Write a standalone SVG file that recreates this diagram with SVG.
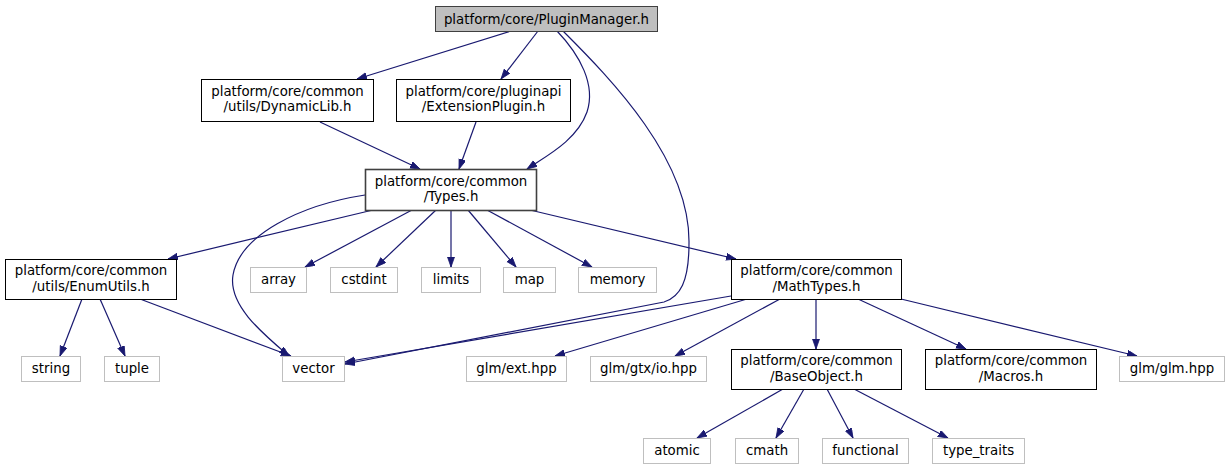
<svg xmlns="http://www.w3.org/2000/svg" width="1229" height="469" viewBox="0 0 1229 469">
<style>
text{font-family:"DejaVu Sans","Liberation Sans",sans-serif;font-size:13.33px;fill:#000;text-anchor:middle}
.n rect{fill:#fff;stroke:#000;stroke-width:1}
.g rect{fill:#fff;stroke:#bfbfbf;stroke-width:1}
.r rect{fill:#bfbfbf;stroke:#404040;stroke-width:1}
.t rect{fill:#fff;stroke:#404040;stroke-width:1.6}
#edges path{fill:none;stroke:#191970;stroke-width:1.2;marker-end:url(#a)}
</style>
<defs>
<marker id="a" markerUnits="userSpaceOnUse" markerWidth="11" markerHeight="8" refX="10" refY="3.5" orient="auto">
<path d="M0,0 L10,3.5 L0,7 z" fill="#191970" stroke="#191970" stroke-width="0.8"/>
</marker>
</defs>
<rect width="1229" height="469" fill="#fff"/>
<g id="edges">
<path d="M511,31 L357,79"/>
<path d="M538,31 L501,79"/>
<path d="M557,31 C580,55 596,85 587,112 C577,140 548,155 527,169"/>
<path d="M563,31 C612,80 690,160 689,243 C689,282 680,297 664,302 L345,364"/>
<path d="M320,122 L420,169"/>
<path d="M476,122 L459,169"/>
<path d="M373,210 L168,259"/>
<path d="M365,195 C300,205 240,235 233,275 C228,305 262,333 289,356"/>
<path d="M412,210 L305,267"/>
<path d="M436,210 L376,267"/>
<path d="M451,210 L451,267"/>
<path d="M468,210 L516,267"/>
<path d="M487,210 L592,267"/>
<path d="M530,210 L736,259"/>
<path d="M82,299 L60,356"/>
<path d="M100,299 L125,356"/>
<path d="M140,299 L291,356"/>
<path d="M731,296 L345,362"/>
<path d="M747,299 L555,356"/>
<path d="M780,299 L675,356"/>
<path d="M816,299 L816,349"/>
<path d="M858,299 L966,349"/>
<path d="M901,299 L1137,356"/>
<path d="M783,389 L697,438"/>
<path d="M804,389 L776,438"/>
<path d="M827,389 L853,438"/>
<path d="M854,389 L948,438"/>
</g>
<g id="PluginManager" class="r"><rect x="435.5" y="6.5" width="222" height="25"/><text x="546.5" y="24">platform/core/PluginManager.h</text></g>
<g id="DynamicLib" class="n"><rect x="201.5" y="79.5" width="172" height="42"/><text x="287.5" y="96">platform/core/common</text><text x="287.5" y="111">/utils/DynamicLib.h</text></g>
<g id="ExtensionPlugin" class="n"><rect x="396.5" y="79.5" width="174" height="42"/><text x="483.5" y="96">platform/core/pluginapi</text><text x="483.5" y="111">/ExtensionPlugin.h</text></g>
<g id="Types" class="t"><rect x="365.5" y="169.5" width="171" height="41"/><text x="451" y="186">platform/core/common</text><text x="451" y="201">/Types.h</text></g>
<g id="EnumUtils" class="n"><rect x="5.5" y="259.5" width="171" height="40"/><text x="91" y="275">platform/core/common</text><text x="91" y="291">/utils/EnumUtils.h</text></g>
<g id="array" class="g"><rect x="250.5" y="267.5" width="56" height="25"/><text x="278.5" y="284">array</text></g>
<g id="cstdint" class="g"><rect x="330.5" y="267.5" width="67" height="25"/><text x="364" y="284">cstdint</text></g>
<g id="limits" class="g"><rect x="421.5" y="267.5" width="59" height="25"/><text x="451" y="284">limits</text></g>
<g id="map" class="g"><rect x="503.5" y="267.5" width="52" height="25"/><text x="529.5" y="284">map</text></g>
<g id="memory" class="g"><rect x="578.5" y="267.5" width="78" height="25"/><text x="617.5" y="284">memory</text></g>
<g id="MathTypes" class="n"><rect x="731.5" y="259.5" width="170" height="40"/><text x="816.5" y="275">platform/core/common</text><text x="816.5" y="291">/MathTypes.h</text></g>
<g id="string" class="g"><rect x="21.5" y="356.5" width="59" height="25"/><text x="51" y="373">string</text></g>
<g id="tuple" class="g"><rect x="104.5" y="356.5" width="55" height="25"/><text x="132" y="373">tuple</text></g>
<g id="vector" class="g"><rect x="282.5" y="356.5" width="62" height="25"/><text x="313.5" y="373">vector</text></g>
<g id="glmext" class="g"><rect x="466.5" y="356.5" width="100" height="25"/><text x="516.5" y="373">glm/ext.hpp</text></g>
<g id="glmgtxio" class="g"><rect x="590.5" y="356.5" width="116" height="25"/><text x="648.5" y="373">glm/gtx/io.hpp</text></g>
<g id="BaseObject" class="n"><rect x="731.5" y="349.5" width="170" height="40"/><text x="816.5" y="365">platform/core/common</text><text x="816.5" y="381">/BaseObject.h</text></g>
<g id="Macros" class="n"><rect x="925.5" y="349.5" width="171" height="40"/><text x="1011" y="365">platform/core/common</text><text x="1011" y="381">/Macros.h</text></g>
<g id="glmglm" class="g"><rect x="1119.5" y="356.5" width="105" height="25"/><text x="1172" y="373">glm/glm.hpp</text></g>
<g id="atomic" class="g"><rect x="643.5" y="438.5" width="67" height="25"/><text x="677" y="455">atomic</text></g>
<g id="cmath" class="g"><rect x="735.5" y="438.5" width="63" height="25"/><text x="767" y="455">cmath</text></g>
<g id="functional" class="g"><rect x="822.5" y="438.5" width="86" height="25"/><text x="865.5" y="455">functional</text></g>
<g id="type_traits" class="g"><rect x="932.5" y="438.5" width="92" height="25"/><text x="978.5" y="455">type_traits</text></g>
</svg>
